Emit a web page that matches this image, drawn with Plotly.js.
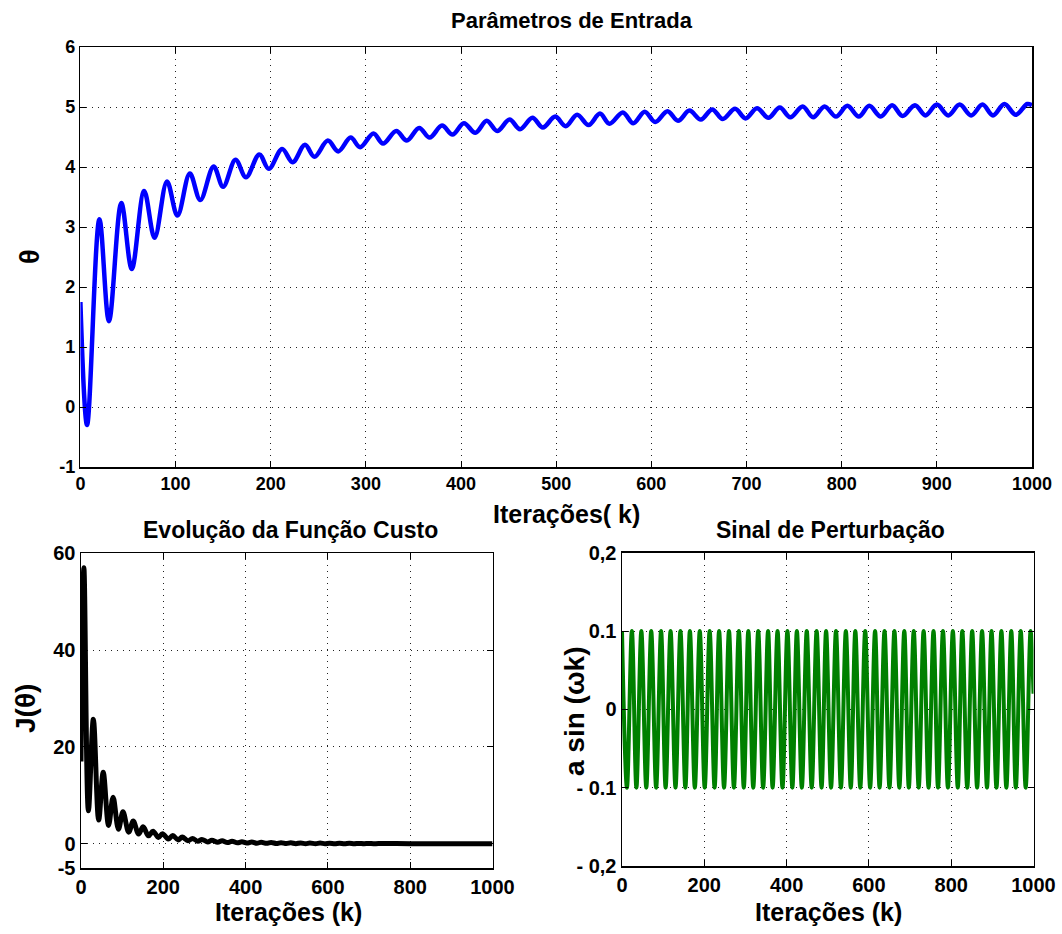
<!DOCTYPE html>
<html>
<head>
<meta charset="utf-8">
<script src="https://cdn.plot.ly/plotly-3.0.1.min.js"></script>
<style>html,body{margin:0;padding:0;background:#fff;}#chart{width:1062px;height:934px;}</style>
</head>
<body>
<div id="chart"></div>
<script>
// ---- Data ----
// Top panel: theta (extrema)
var thetaK = [0, 7, 20, 30, 43, 54, 67, 78, 91, 102,
  115, 126, 140, 150, 163, 174, 188, 198, 212, 223,
  236, 246, 260, 271, 284, 294, 308, 318, 332, 343,
  356, 367, 380, 391, 403, 415, 427, 438, 451, 462,
  475, 486, 499, 510, 522, 534, 546, 556, 570, 581,
  593, 604, 617, 628, 640, 652, 664, 675, 688, 699,
  711, 723, 735, 746, 759, 770, 782, 794, 806, 818,
  829, 841, 853, 864, 877, 888, 900, 912, 924, 936,
  948, 959, 971, 983, 995, 1000];
var thetaV = [1.75, -0.30, 3.13, 1.43, 3.40, 2.30, 3.60, 2.82, 3.76, 3.19,
  3.89, 3.45, 4.01, 3.67, 4.12, 3.83, 4.21, 3.97, 4.30, 4.08,
  4.37, 4.17, 4.44, 4.26, 4.49, 4.33, 4.56, 4.39, 4.60, 4.44,
  4.65, 4.49, 4.69, 4.54, 4.73, 4.57, 4.77, 4.60, 4.79, 4.63,
  4.82, 4.66, 4.84, 4.68, 4.87, 4.70, 4.89, 4.72, 4.91, 4.73,
  4.92, 4.75, 4.93, 4.77, 4.94, 4.79, 4.96, 4.80, 4.97, 4.81,
  4.98, 4.82, 4.99, 4.83, 5.01, 4.83, 5.01, 4.84, 5.02, 4.84,
  5.02, 4.84, 5.03, 4.85, 5.03, 4.86, 5.04, 4.86, 5.04, 4.86,
  5.04, 4.86, 5.05, 4.87, 5.05, 5.03];

// Bottom-left: cost function J(theta)
var costK = [0, 7, 18, 30, 43, 54, 67, 78, 91, 102,
  116, 127, 140, 151, 164, 175, 188, 198, 212, 223,
  236, 246, 260, 271, 284, 294, 308, 318, 332, 343,
  356, 367, 380, 391, 403, 415, 427, 438, 451, 462,
  475, 486, 499, 510, 522, 534, 546, 556, 570, 581,
  593, 604, 617, 628, 640, 652, 664, 675, 688, 699,
  711, 723, 800, 900, 1000];
var costV = [17, 57, 6.8, 25.7, 4.9, 14.8, 3.8, 9.6, 3.0, 6.6,
  2.4, 4.7, 2.0, 3.5, 1.65, 2.6, 1.3, 2.1, 1.0, 1.7,
  0.8, 1.38, 0.63, 1.1, 0.52, 0.9, 0.39, 0.74, 0.32, 0.63,
  0.25, 0.52, 0.19, 0.42, 0.15, 0.37, 0.11, 0.32, 0.09, 0.27,
  0.06, 0.23, 0.05, 0.2, 0.03, 0.18, 0.02, 0.16, 0.02, 0.15,
  0.01, 0.12, 0.01, 0.11, 0.01, 0.09, 0.01, 0.08, 0.01, 0.07,
  0.01, 0.06, 0.03, 0.03, 0.02];

// Bottom-right: perturbation signal a sin(wk) (extrema)
var pertK = [0, 12, 24, 35, 47, 59, 71, 83, 95, 106,
  118, 130, 142, 154, 165, 177, 189, 201, 213, 225,
  236, 248, 260, 272, 284, 296, 307, 319, 331, 343,
  355, 366, 378, 390, 402, 414, 425, 437, 449, 461,
  473, 485, 496, 508, 520, 532, 544, 556, 567, 579,
  591, 603, 615, 626, 638, 650, 662, 674, 686, 697,
  709, 721, 733, 745, 757, 768, 780, 792, 804, 816,
  827, 839, 851, 863, 875, 887, 898, 910, 922, 934,
  946, 957, 969, 981, 993, 1000];
var pertV = [0.1, -0.1, 0.1, -0.1, 0.1, -0.1, 0.1, -0.1, 0.1, -0.1,
  0.1, -0.1, 0.1, -0.1, 0.1, -0.1, 0.1, -0.1, 0.1, -0.1,
  0.1, -0.1, 0.1, -0.1, 0.1, -0.1, 0.1, -0.1, 0.1, -0.1,
  0.1, -0.1, 0.1, -0.1, 0.1, -0.1, 0.1, -0.1, 0.1, -0.1,
  0.1, -0.1, 0.1, -0.1, 0.1, -0.1, 0.1, -0.1, 0.1, -0.1,
  0.1, -0.1, 0.1, -0.1, 0.1, -0.1, 0.1, -0.1, 0.1, -0.1,
  0.1, -0.1, 0.1, -0.1, 0.1, -0.1, 0.1, -0.1, 0.1, -0.1,
  0.1, -0.1, 0.1, -0.1, 0.1, -0.1, 0.1, -0.1, 0.1, -0.1,
  0.1, -0.1, 0.1, -0.1, 0.1, 0.02];

// Tick labels
var topXTicks = [0, 100, 200, 300, 400, 500, 600, 700, 800, 900, 1000];
var topYTicks = [-1, 0, 1, 2, 3, 4, 5, 6];
var topYText = ['-1', '0', '1', '2', '3', '4', '5', '6'];
var botXTicks = [0, 200, 400, 600, 800, 1000];
var costYTicks = [-5, 0, 20, 40, 60];
var costYText = ['-5', '0', '20', '40', '60'];
var pertYTicks = [-0.2, -0.1, 0, 0.1, 0.2];
var pertYText = ['- 0,2', '- 0.1', '0', '0.1', '0,2'];

// ---- Figure ----
var W = 1062, H = 934;
function px(x) { return x / W; }
function py(y) { return 1 - y / H; }
var FONT = 'Liberation Sans, Arial, sans-serif';

function axisBase(extra) {
  var a = {
    showline: true, linecolor: '#000', linewidth: 1.5, mirror: 'ticks',
    ticks: 'inside', ticklen: 6, tickcolor: '#000', tickwidth: 1,
    showgrid: true, gridcolor: '#222', gridwidth: 1, griddash: '1px,5px',
    zeroline: false, automargin: false,
    tickfont: {family: FONT, size: 18, color: '#000', weight: 'bold'}
  };
  for (var k in extra) a[k] = extra[k];
  return a;
}
var botTickFont = {family: FONT, size: 20, color: '#000', weight: 'bold'};

var traces = [
  {x: thetaK, y: thetaV, type: 'scatter', mode: 'lines', xaxis: 'x', yaxis: 'y',
   line: {color: '#0000ff', width: 4.5, shape: 'spline', smoothing: 1}, hoverinfo: 'skip'},
  {x: costK, y: costV, type: 'scatter', mode: 'lines', xaxis: 'x2', yaxis: 'y2',
   line: {color: '#000000', width: 5, shape: 'spline', smoothing: 1}, hoverinfo: 'skip'},
  {x: pertK, y: pertV, type: 'scatter', mode: 'lines', xaxis: 'x3', yaxis: 'y3',
   line: {color: '#008000', width: 4, shape: 'spline', smoothing: 1}, hoverinfo: 'skip'}
];

function ann(text, x, y, size, rot) {
  return {text: text, x: px(x), y: py(y), xref: 'paper', yref: 'paper',
    xanchor: 'center', yanchor: 'middle', showarrow: false, textangle: rot || 0,
    font: {family: FONT, size: size, color: '#000', weight: 'bold'}};
}

var layout = {
  width: W, height: H,
  margin: {l: 0, r: 0, t: 0, b: 0},
  paper_bgcolor: '#fff', plot_bgcolor: '#fff',
  showlegend: false,
  xaxis: axisBase({domain: [px(80.4), px(1032)], range: [0, 1000], tickvals: topXTicks, anchor: 'y'}),
  yaxis: axisBase({domain: [py(467), py(47)], range: [-1, 6], tickvals: topYTicks, ticktext: topYText, anchor: 'x'}),
  xaxis2: axisBase({domain: [px(81), px(492.5)], range: [0, 1000], tickvals: botXTicks, anchor: 'y2', tickfont: botTickFont}),
  yaxis2: axisBase({domain: [py(868), py(553.3)], range: [-5, 60], tickvals: costYTicks, ticktext: costYText, anchor: 'x2', tickfont: botTickFont}),
  xaxis3: axisBase({domain: [px(622), px(1033.5)], range: [0, 1000], tickvals: botXTicks, anchor: 'y3', tickfont: botTickFont}),
  yaxis3: axisBase({domain: [py(866), py(552.7)], range: [-0.2, 0.2], tickvals: pertYTicks, ticktext: pertYText, anchor: 'x3', tickfont: botTickFont}),
  annotations: [
    ann('Parâmetros de Entrada', 572, 20, 22),
    ann('Iterações( k)', 566, 514, 25),
    ann('θ', 30, 257, 27, -90),
    ann('Evolução da Função Custo', 290, 530, 23),
    ann('Iterações (k)', 288, 912, 25),
    ann('J(θ)', 25, 709, 28, -90),
    ann('Sinal de Perturbação', 830, 530, 23),
    ann('Iterações (k)', 828, 912, 25),
    ann('a sin (ωk)', 574, 712, 28, -90)
  ]
};

Plotly.newPlot('chart', traces, layout, {staticPlot: true, displayModeBar: false});
</script>
</body>
</html>
